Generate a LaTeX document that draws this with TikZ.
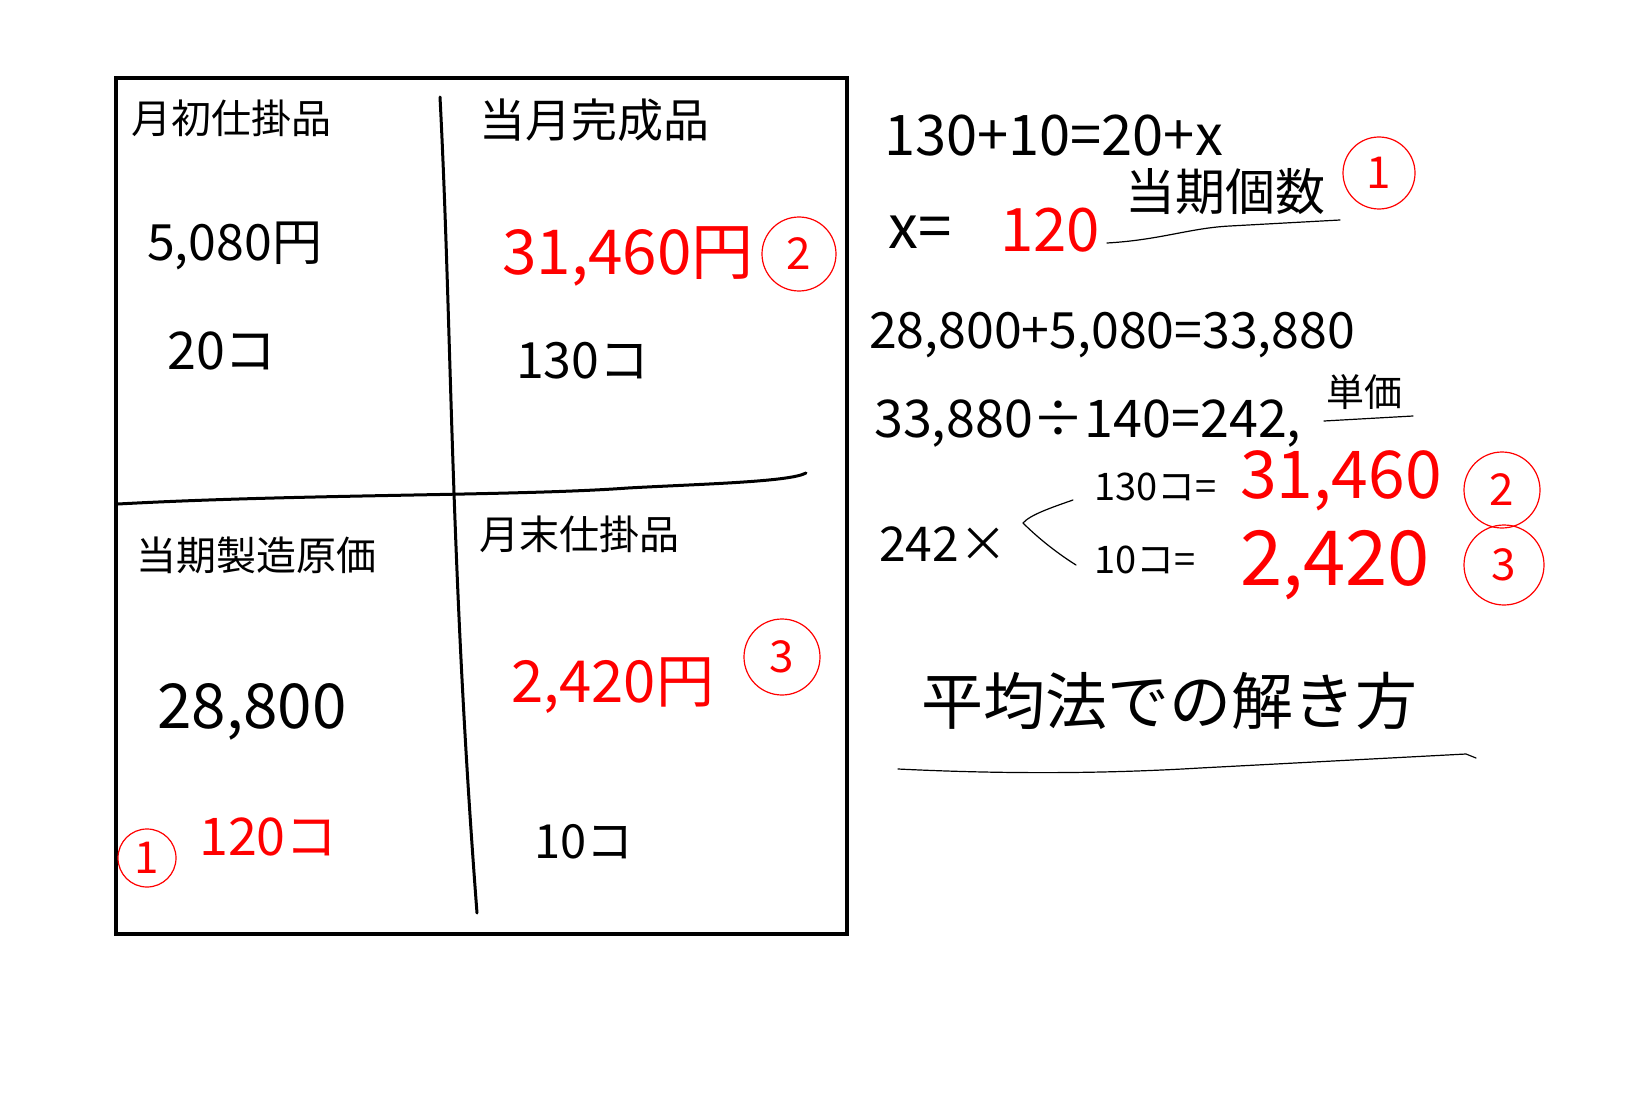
\documentclass[tikz,border=0pt]{standalone}
\usepackage{fontspec}
\setmainfont{Noto Sans CJK JP}

\begin{document}
\begin{tikzpicture}[x=1pt,y=-1pt,
  ink/.style={anchor=west, inner sep=0pt, text=black},
  redink/.style={ink, text=red},
  sz/.style={font=\fontsize{#1}{#1}\selectfont},
  ring/.style={circle, draw=red, line width=1.2pt, text=red, inner sep=0pt, font=\fontsize{44}{44}\selectfont},
  rule/.style={line width=3pt, line cap=round, line join=round},
  pen/.style={line width=1.2pt, line cap=round, line join=round}]
\useasboundingbox[fill=white] (0,0) rectangle (1641,1094);

% box and dividers
\draw[line width=4pt] (116,78) rectangle (847,934);
\draw[rule] (440,97) .. controls (452,330) and (450,560) .. (477,913);
\draw[rule] (118,504) .. controls (300,494) and (520,496) .. (628,488) .. controls (700,484) and (790,482) .. (806,473);

% upper left
\node[ink, sz=40] (begwip) at (131,118) {月初仕掛品};
\node[ink, sz=50] (begcost) at (147,246) {5,080円};
\node[ink, sz=52] (begqty) at (167,351) {20コ};

% upper right
\node[ink, sz=46] (done) at (479,120) {当月完成品};
\node[redink, sz=62] (donecost) at (502,256) {31,460円};
\node[ring, minimum size=74pt] (donemk) at (799,254) {2};
\node[ink, sz=50] (doneqty) at (516,361) {130コ};

% lower left
\node[ink, sz=40] (mfg) at (136,555) {当期製造原価};
\node[ink, sz=62] (mfgcost) at (157,712) {28,800};
\node[ring, minimum size=58pt] (mfgmk) at (147,858) {1};
\node[redink, sz=52] (mfgqty) at (199,837) {120コ};

% lower right
\node[ink, sz=40] (endwip) at (479,534) {月末仕掛品};
\node[redink, sz=58] (endcost) at (511,686) {2,420円};
\node[ring, minimum size=76pt] (endmk) at (782,657) {3};
\node[ink, sz=47] (endqty) at (534,842) {10コ};

% working
\node[ink, sz=56] (eq1) at (884,136) {130+10=20+x};
\node[ink, sz=60] (eq2) at (888,232) {x=};
\node[redink, sz=60] (eq2v) at (1000,230) {120};
\node[ink, sz=50] (qtylbl) at (1125,192) {当期個数};
\node[ring, minimum size=72pt] (qtymk) at (1379,173) {1};
\draw[pen] (1107,243) .. controls (1160,240) and (1190,228) .. (1230,226) -- (1340,220);

\node[ink, sz=50] (eq3) at (869,335) {28,800+5,080=33,880};
\node[ink, sz=52] (eq4) at (874,424) {33,880÷140=242,};
\node[ink, sz=38] (unitlbl) at (1326,392) {単価};
\draw[pen] (1324,421) -- (1413,416);

\node[ink, sz=48] (mul) at (879,544) {242×};
\draw[pen] (1073,500) .. controls (1050,508) and (1030,515) .. (1023,523) .. controls (1040,540) and (1060,555) .. (1076,565);
\node[ink, sz=38] (row1) at (1094,487) {130コ=};
\node[redink, sz=66] (row1v) at (1240,481) {31,460};
\node[ring, minimum size=76pt] (row1mk) at (1502,490) {2};
\node[ink, sz=38] (row2) at (1094,560) {10コ=};
\node[redink, sz=76] (row2v) at (1240,565) {2,420};
\node[ring, minimum size=80pt] (row2mk) at (1504,565) {3};

\node[ink, sz=62] (title) at (921,701) {平均法での解き方};
\draw[pen] (898,769) .. controls (1000,774) and (1100,774) .. (1200,768) -- (1466,754) -- (1476,758);
\end{tikzpicture}
\end{document}
